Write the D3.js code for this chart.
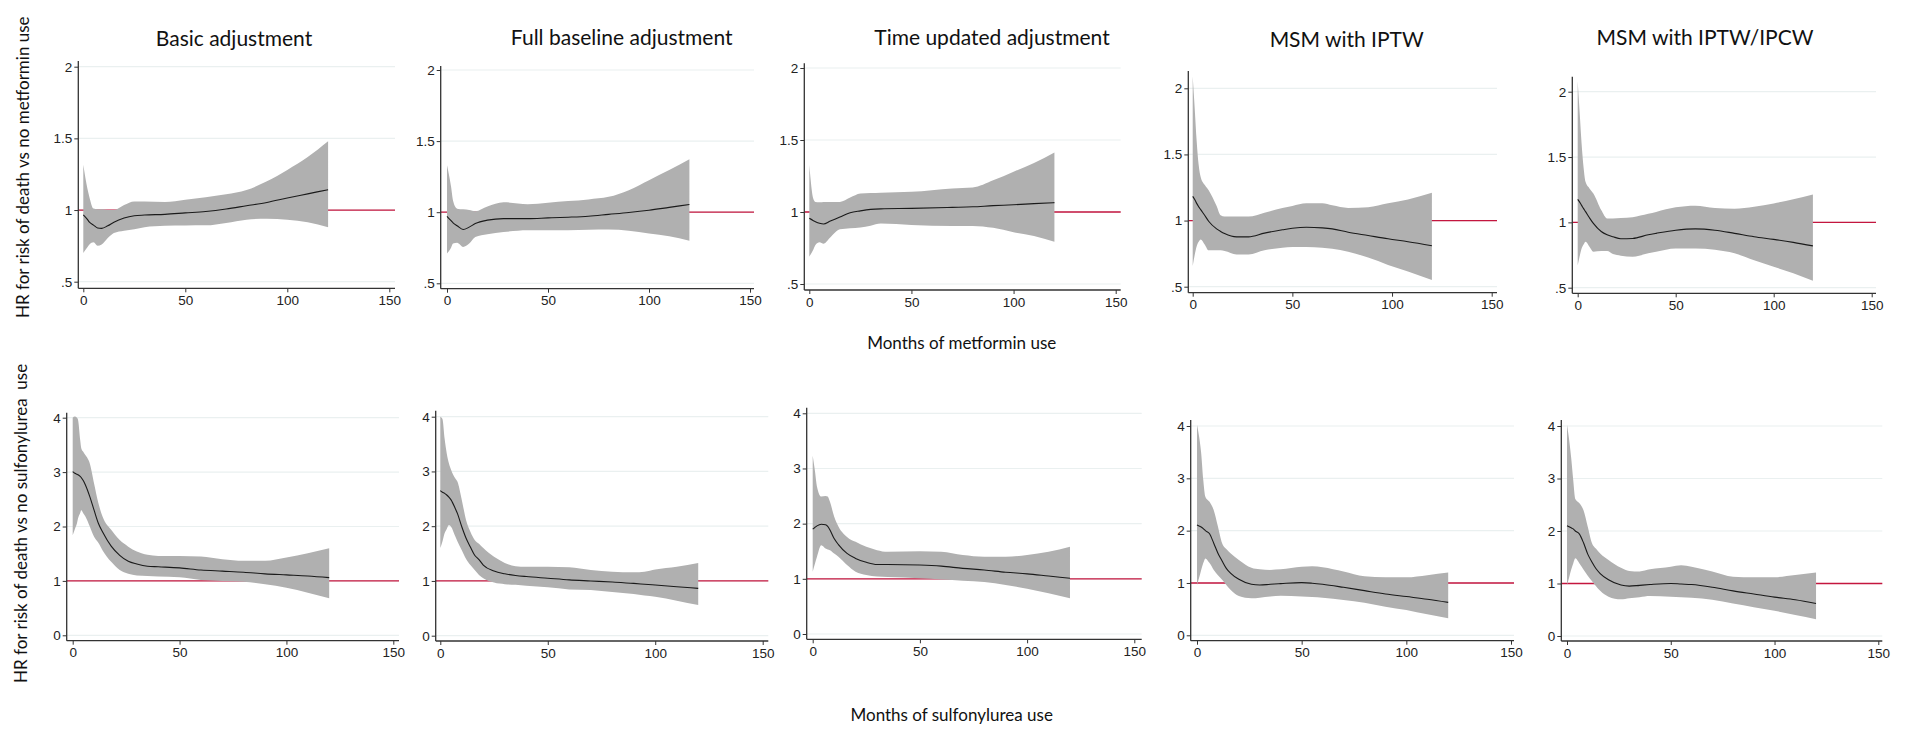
<!DOCTYPE html>
<html>
<head>
<meta charset="utf-8">
<script src="https://cdn.jsdelivr.net/npm/d3@7"></script>
<style>
body { margin: 0; background: #fff; }
svg { display: block; }
.tick text { font-family: "Liberation Sans", Arial, sans-serif; font-size: 13.5px; fill: #222; }
.title { font-family: Lato, "Open Sans", sans-serif; font-size: 21px; fill: #111; }
.lab { font-family: Lato, "Open Sans", sans-serif; font-size: 17px; fill: #111; white-space: pre; }
</style>
</head>
<body>
<div id="chart"></div>
<script>
let width = 1906, height = 730;

// titles of the five model columns
let titles = ["Basic adjustment", "Full baseline adjustment", "Time updated adjustment", "MSM with IPTW", "MSM with IPTW/IPCW"];

let xTicks = [0, 50, 100, 150];
let topTicks = [0.5, 1, 1.5, 2];
let topTickLabels = [".5", "1", "1.5", "2"];
let botTicks = [0, 1, 2, 3, 4];
let botTickLabels = ["0", "1", "2", "3", "4"];

// rows: [month, lower CI, HR, upper CI]  -- metformin
let metBasic = [
  [0,0.70,0.967,1.316],[2,0.74,0.935,1.15],[3,0.76,0.915,1.09],[5,0.775,0.895,1.01],[7,0.75,0.875,1.005],
  [9,0.76,0.872,1.005],[12,0.805,0.89,1.0],[15,0.84,0.915,1.0],[20,0.856,0.944,1.035],[25,0.866,0.96,1.06],
  [30,0.88,0.965,1.06],[40,0.89,0.97,1.056],[50,0.892,0.98,1.072],[60,0.893,0.99,1.09],[70,0.91,1.007,1.11],
  [80,0.933,1.03,1.14],[90,0.94,1.053,1.2],[100,0.933,1.084,1.28],[110,0.914,1.113,1.37],[120,0.88,1.142,1.48]
];
let metFull = [
  [0,0.71,0.97,1.33],[2,0.75,0.94,1.18],[3,0.78,0.925,1.08],[5,0.785,0.905,1.025],[8,0.756,0.878,1.02],
  [11,0.78,0.895,1.015],[14,0.826,0.92,1.007],[20,0.845,0.944,1.04],[28,0.86,0.955,1.07],[40,0.873,0.955,1.056],
  [50,0.873,0.96,1.066],[60,0.873,0.965,1.078],[70,0.876,0.972,1.09],[80,0.878,0.985,1.108],[90,0.87,0.998,1.155],
  [100,0.85,1.014,1.225],[110,0.83,1.034,1.296],[120,0.80,1.054,1.373]
];
let metTime = [
  [0,0.69,0.956,1.326],[2,0.74,0.94,1.09],[3,0.77,0.933,1.07],[5,0.79,0.922,1.068],[7,0.78,0.917,1.07],
  [10,0.82,0.935,1.07],[15,0.88,0.965,1.07],[20,0.888,0.995,1.1],[25,0.893,1.008,1.128],[30,0.905,1.018,1.132],
  [35,0.92,1.022,1.134],[50,0.91,1.025,1.14],[70,0.903,1.032,1.164],[80,0.903,1.036,1.17],[90,0.89,1.044,1.22],
  [100,0.86,1.05,1.28],[110,0.833,1.058,1.34],[120,0.794,1.065,1.414]
];
let metIptw = [
  [0,0.656,1.183,2.09],[1,0.74,1.16,1.85],[2,0.806,1.13,1.6],[3,0.84,1.105,1.42],[4,0.857,1.083,1.33],
  [6,0.82,1.04,1.27],[8,0.776,0.995,1.23],[12,0.776,0.937,1.11],[14,0.775,0.918,1.04],[16,0.77,0.902,1.03],
  [22,0.744,0.877,1.03],[28,0.744,0.877,1.03],[36,0.776,0.905,1.06],[45,0.795,0.93,1.095],[50,0.80,0.942,1.11],
  [57,0.80,0.95,1.13],[65,0.795,0.945,1.13],[70,0.786,0.937,1.115],[78,0.765,0.912,1.095],[88,0.72,0.887,1.1],
  [98,0.665,0.862,1.13],[108,0.615,0.84,1.16],[120,0.55,0.81,1.21]
];
let metIpcw = [
  [0,0.67,1.176,2.08],[1,0.74,1.155,1.84],[2,0.80,1.13,1.6],[3,0.83,1.105,1.42],[4,0.852,1.082,1.31],
  [6,0.814,1.035,1.26],[8,0.776,0.992,1.22],[12,0.78,0.93,1.094],[15,0.78,0.905,1.03],[18,0.757,0.89,1.03],
  [22,0.745,0.875,1.033],[28,0.737,0.877,1.04],[36,0.763,0.905,1.065],[40,0.775,0.916,1.08],[50,0.80,0.94,1.115],
  [60,0.80,0.95,1.128],[70,0.79,0.94,1.11],[80,0.763,0.916,1.105],[90,0.71,0.89,1.12],[100,0.66,0.87,1.145],
  [110,0.61,0.847,1.176],[120,0.553,0.82,1.214]
];

// sulfonylurea
let sulBasic = [
  [0,1.84,3.01,4.0],[1,1.95,2.98,4.02],[2,2.06,2.96,4.0],[2.5,2.15,2.95,3.96],[3.5,2.25,2.92,3.59],
  [4,2.30,2.9,3.44],[5,2.24,2.84,3.37],[6,2.18,2.76,3.31],[8,2.0,2.55,3.16],[10,1.81,2.30,2.79],
  [12,1.70,2.06,2.43],[14,1.56,1.90,2.18],[18,1.35,1.64,1.94],[22,1.20,1.47,1.75],[26,1.13,1.36,1.63],
  [30,1.10,1.31,1.54],[35,1.09,1.27,1.48],[40,1.08,1.26,1.46],[50,1.066,1.24,1.46],[60,1.017,1.20,1.45],
  [70,1.0,1.18,1.40],[80,0.986,1.16,1.37],[90,0.937,1.13,1.37],[100,0.876,1.11,1.43],[110,0.784,1.09,1.51],
  [120,0.68,1.06,1.6]
];
let sulFull = [
  [0,1.60,2.65,4.0],[1,1.72,2.62,3.96],[2,1.87,2.6,3.6],[3,1.95,2.57,3.33],[4,2.02,2.53,3.15],
  [5,1.99,2.48,3.03],[7,1.81,2.32,2.87],[8,1.72,2.23,2.81],[10,1.56,1.99,2.48],[12,1.40,1.78,2.11],
  [14,1.29,1.62,1.90],[16,1.20,1.47,1.75],[18,1.11,1.39,1.68],[20,1.05,1.29,1.60],[25,0.97,1.18,1.44],
  [30,0.94,1.13,1.33],[35,0.93,1.10,1.27],[40,0.913,1.08,1.26],[50,0.883,1.05,1.26],[60,0.846,1.02,1.25],
  [70,0.834,1.0,1.20],[80,0.798,0.98,1.17],[90,0.76,0.956,1.16],[95,0.735,0.94,1.17],[100,0.712,0.925,1.21],
  [110,0.64,0.895,1.26],[120,0.56,0.864,1.33]
];
let sulTime = [
  [0,1.13,1.90,3.23],[1,1.27,1.93,2.97],[2,1.40,1.96,2.67],[4,1.61,1.99,2.49],[6,1.55,1.98,2.50],
  [7,1.53,1.95,2.49],[8,1.52,1.89,2.40],[10,1.46,1.73,2.13],[12,1.40,1.62,1.95],[16,1.25,1.46,1.76],
  [20,1.13,1.37,1.67],[25,1.07,1.30,1.58],[30,1.04,1.26,1.52],[35,1.035,1.26,1.49],[50,1.01,1.25,1.50],
  [60,0.99,1.23,1.49],[70,0.967,1.19,1.43],[80,0.943,1.16,1.40],[90,0.888,1.12,1.40],[100,0.82,1.09,1.43],
  [110,0.737,1.05,1.49],[120,0.646,1.01,1.58]
];
let sulIptw = [
  [0,0.96,2.11,4.02],[1,1.10,2.09,3.8],[2,1.25,2.07,3.48],[3,1.38,2.04,2.97],[4,1.47,2.0,2.65],
  [6,1.38,1.94,2.55],[8,1.25,1.76,2.39],[10,1.15,1.57,2.08],[12,1.06,1.42,1.76],[14,0.96,1.28,1.65],
  [16,0.87,1.19,1.57],[20,0.75,1.07,1.44],[26,0.707,0.975,1.29],[30,0.72,0.96,1.26],[35,0.74,0.975,1.25],
  [40,0.758,0.987,1.26],[50,0.74,1.006,1.31],[55,0.73,0.995,1.32],[60,0.72,0.975,1.30],[70,0.675,0.917,1.22],
  [80,0.624,0.853,1.13],[90,0.548,0.79,1.11],[100,0.484,0.74,1.11],[110,0.40,0.69,1.15],[120,0.325,0.63,1.20]
];
let sulIpcw = [
  [0,0.97,2.10,4.02],[1,1.11,2.08,3.75],[2,1.26,2.06,3.40],[3,1.38,2.04,2.97],[4,1.48,2.0,2.61],
  [6,1.38,1.94,2.53],[8,1.26,1.77,2.39],[10,1.15,1.56,2.08],[12,1.05,1.41,1.77],[14,0.95,1.28,1.66],
  [16,0.86,1.19,1.57],[20,0.75,1.07,1.45],[26,0.70,0.97,1.30],[30,0.72,0.95,1.24],[35,0.74,0.965,1.23],
  [40,0.76,0.98,1.27],[50,0.75,1.0,1.32],[55,0.74,0.99,1.35],[60,0.73,0.98,1.32],[70,0.69,0.93,1.23],
  [80,0.62,0.86,1.13],[90,0.55,0.80,1.12],[100,0.48,0.74,1.12],[110,0.40,0.69,1.16],[120,0.32,0.62,1.21]
];

// pixel layout of each small plot (axis x, x of 0 and 150, axis end, axis top, y of low/high tick, x-axis y)
let layout = [
  {ax:78.3, x0:83.3, x150:389.3, end:395, top:61, yLo:281.7, yHi:66.7, base:288.3},
  {ax:440.7, x0:447, x150:750, end:754, top:66, yLo:283.3, yHi:70, base:288.7},
  {ax:804.3, x0:809.3, x150:1115.7, end:1120.7, top:63.3, yLo:284, yHi:68, base:290},
  {ax:1188.3, x0:1192.7, x150:1491.7, end:1497, top:71, yLo:286.7, yHi:88.3, base:292.7},
  {ax:1572.3, x0:1577.7, x150:1871.7, end:1876, top:76.7, yLo:287.7, yHi:91.7, base:293.3},
  {ax:66.7, x0:72.7, x150:393.3, end:399, top:412.7, yLo:635.3, yHi:417.7, base:640.7},
  {ax:435.7, x0:440.3, x150:762.7, end:768.3, top:410.7, yLo:635.7, yHi:416.7, base:641},
  {ax:806.7, x0:812.7, x150:1134.3, end:1141.7, top:407.7, yLo:634, yHi:413.3, base:639.3},
  {ax:1190.7, x0:1197, x150:1511, end:1514, top:420, yLo:635.3, yHi:426, base:640.7},
  {ax:1561.3, x0:1567, x150:1878.3, end:1882.3, top:420, yLo:636, yHi:426, base:641}
];
let titlePos = [[234, 45.5], [621.7, 45], [992, 45], [1346.7, 47], [1705, 45]];

let panels = [metBasic, metFull, metTime, metIptw, metIpcw, sulBasic, sulFull, sulTime, sulIptw, sulIpcw];

let svg = d3.select("#chart").append("svg")
  .attr("width", width)
  .attr("height", height);

panels.forEach((data, i) => {
  let L = layout[i];
  let isTop = i < 5;
  let ticks = isTop ? topTicks : botTicks;
  let tickLabels = isTop ? topTickLabels : botTickLabels;

  let x = d3.scaleLinear().domain([0, 150]).range([L.x0, L.x150]);
  let y = d3.scaleLinear().domain(d3.extent(ticks)).range([L.yLo, L.yHi]);

  let g = svg.append("g");

  // light grid
  g.selectAll(".grid")
    .data(ticks)
    .enter()
    .append("line")
    .attr("x1", L.ax).attr("x2", L.end)
    .attr("y1", d => y(d)).attr("y2", d => y(d))
    .attr("stroke", "#eaf0f0")
    .attr("stroke-width", 1.2);

  // reference line at HR = 1
  g.append("line")
    .attr("x1", L.ax).attr("x2", L.end)
    .attr("y1", y(1)).attr("y2", y(1))
    .attr("stroke", "#c4163f")
    .attr("stroke-width", 1.3);

  let area = d3.area()
    .x(d => x(d[0]))
    .y0(d => y(d[1]))
    .y1(d => y(d[3]))
    .curve(d3.curveMonotoneX);
  let line = d3.line()
    .x(d => x(d[0]))
    .y(d => y(d[2]))
    .curve(d3.curveMonotoneX);

  g.append("path").datum(data)
    .attr("d", area)
    .attr("fill", "#b0b0b0");
  g.append("path").datum(data)
    .attr("d", line)
    .attr("fill", "none")
    .attr("stroke", "#1a1a1a")
    .attr("stroke-width", 1.1);

  // axes
  let yAxis = d3.axisLeft(y).tickValues(ticks)
    .tickFormat((d, k) => tickLabels[k])
    .tickSize(4).tickPadding(2);
  g.append("g")
    .attr("transform", "translate(" + L.ax + ",0)")
    .call(yAxis)
    .call(a => a.select(".domain").remove())
    .call(a => a.selectAll(".tick line").attr("stroke", "#333"));

  let xAxis = d3.axisBottom(x).tickValues(xTicks)
    .tickSize(4).tickPadding(3);
  g.append("g")
    .attr("transform", "translate(0," + L.base + ")")
    .call(xAxis)
    .call(a => a.select(".domain").remove())
    .call(a => a.selectAll(".tick line").attr("stroke", "#333"));

  g.append("line")
    .attr("x1", L.ax).attr("x2", L.ax)
    .attr("y1", L.top).attr("y2", L.base)
    .attr("stroke", "#333").attr("stroke-width", 1.3);
  g.append("line")
    .attr("x1", L.ax).attr("x2", L.end)
    .attr("y1", L.base).attr("y2", L.base)
    .attr("stroke", "#333").attr("stroke-width", 1.3);

  if (isTop) {
    svg.append("text")
      .attr("class", "title")
      .attr("text-anchor", "middle")
      .attr("x", titlePos[i][0])
      .attr("y", titlePos[i][1])
      .text(titles[i]);
  }
});

// shared labels
svg.append("text")
  .attr("class", "lab")
  .attr("text-anchor", "start")
  .attr("transform", "translate(29,318) rotate(-90)")
  .text("HR for risk of death vs no metformin use");
svg.append("text")
  .attr("class", "lab")
  .attr("text-anchor", "start")
  .attr("transform", "translate(27,683) rotate(-90)")
  .text("HR for risk of death vs no sulfonylurea  use");
svg.append("text")
  .attr("class", "lab")
  .attr("text-anchor", "middle")
  .attr("x", 961.7).attr("y", 348.5)
  .text("Months of metformin use");
svg.append("text")
  .attr("class", "lab")
  .attr("text-anchor", "middle")
  .attr("x", 951.7).attr("y", 721)
  .text("Months of sulfonylurea use");
</script>
</body>
</html>
